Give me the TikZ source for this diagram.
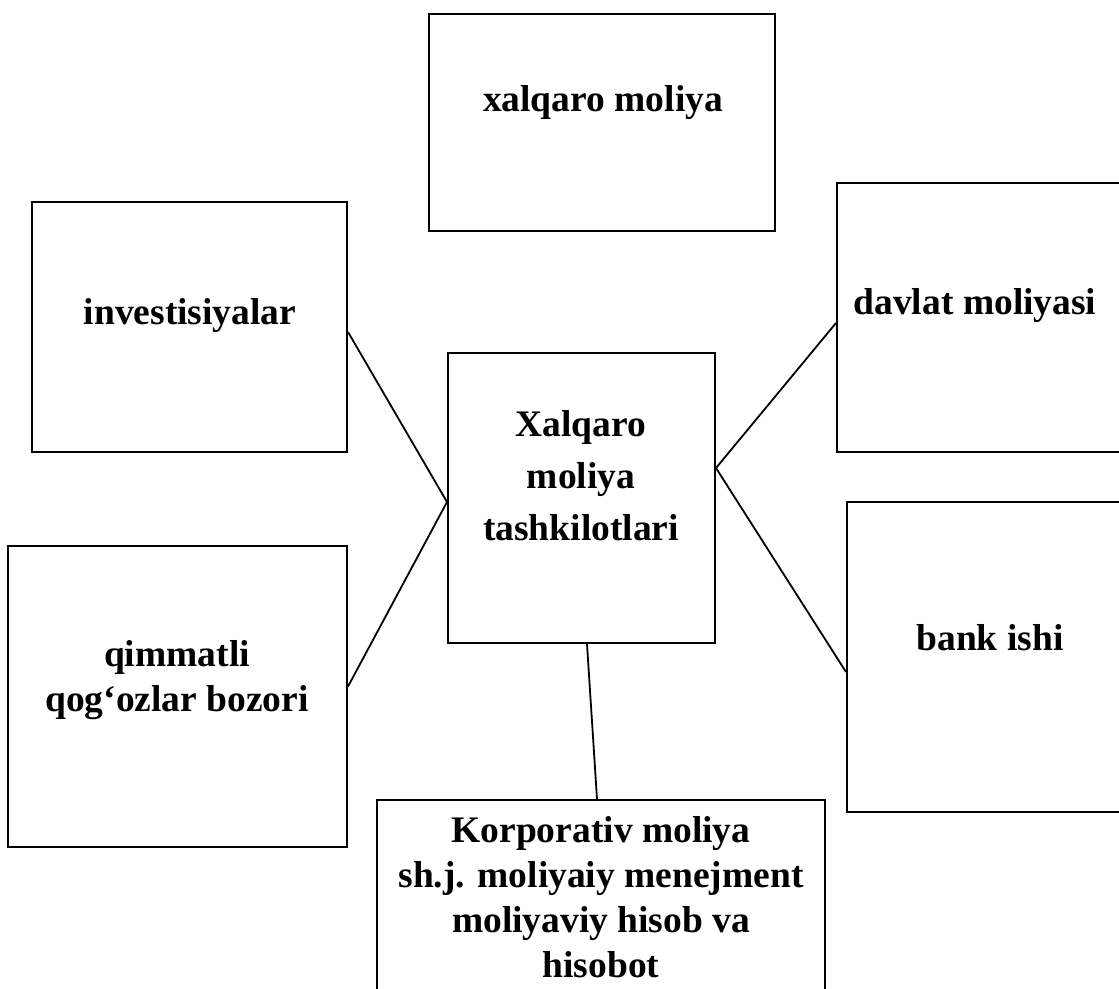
\documentclass[tikz,border=0pt]{standalone}
\usepackage{fontspec}
\setmainfont{Liberation Serif}
\usepackage{tikz}
\usetikzlibrary{positioning}

\begin{document}
\begin{tikzpicture}[
  x=0.5pt, y=-0.5pt,
  frame/.style={draw, line width=1pt, rectangle, inner sep=0pt},
  txt/.style={align=center, inner sep=0pt, font=\bfseries\fontsize{18.75}{22.5}\selectfont},
  link/.style={line width=0.9pt}
]
  \useasboundingbox (0,0) rectangle (1119,989);
  \clip (0,0) rectangle (1119,989);

  % boxes
  \node[frame, minimum width=173pt, minimum height=108.5pt] (intl) at (602,122.5) {};
  \node[frame, minimum width=157.5pt, minimum height=125pt] (inv) at (189.5,327) {};
  \node[frame, minimum width=143pt, minimum height=134.5pt] (state) at (980,317.5) {};
  \node[frame, minimum width=133.5pt, minimum height=145pt] (org) at (581.5,498) {};
  \node[frame, minimum width=169.5pt, minimum height=150.5pt] (sec) at (177.5,696.5) {};
  \node[frame, minimum width=143pt, minimum height=155pt] (bank) at (990,657) {};
  \node[frame, minimum width=224pt, minimum height=110pt] (corp) at (601,910) {};

  % labels
  \node[txt, anchor=base] (intltxt) at (603,112) {xalqaro moliya};
  \node[txt, anchor=base] (invtxt) at (190,325) {investisiyalar};
  \node[txt, anchor=base] (statetxt) at (975,315) {davlat moliyasi};
  \node[txt, anchor=base] (banktxt) at (990,650) {bank ishi};
  \node[txt, anchor=north, font=\bfseries\fontsize{18.75}{26}\selectfont] (orgtxt) at (581,410) {Xalqaro\\moliya\\tashkilotlari};
  \node[txt, anchor=north] (sectxt) at (177,640) {qimmatli\\qog‘ozlar bozori};
  \node[txt, anchor=north] (corptxt) at (601,816) {Korporativ moliya\\sh.j. moliyaiy menejment\\moliyaviy hisob va\\hisobot};

  % connectors
  \draw[link] ([yshift=-2.5pt]inv.east) -- ([yshift=-2pt]org.west);
  \draw[link] ([yshift=5pt]sec.east) -- ([yshift=-2pt]org.west);
  \draw[link] ([yshift=15pt]org.east) -- ([yshift=-2.75pt]state.west);
  \draw[link] ([yshift=15pt]org.east) -- ([yshift=-7.5pt]bank.west);
  \draw[link] ([xshift=2.75pt]org.south) -- ([xshift=-2pt]corp.north);
\end{tikzpicture}
\end{document}
